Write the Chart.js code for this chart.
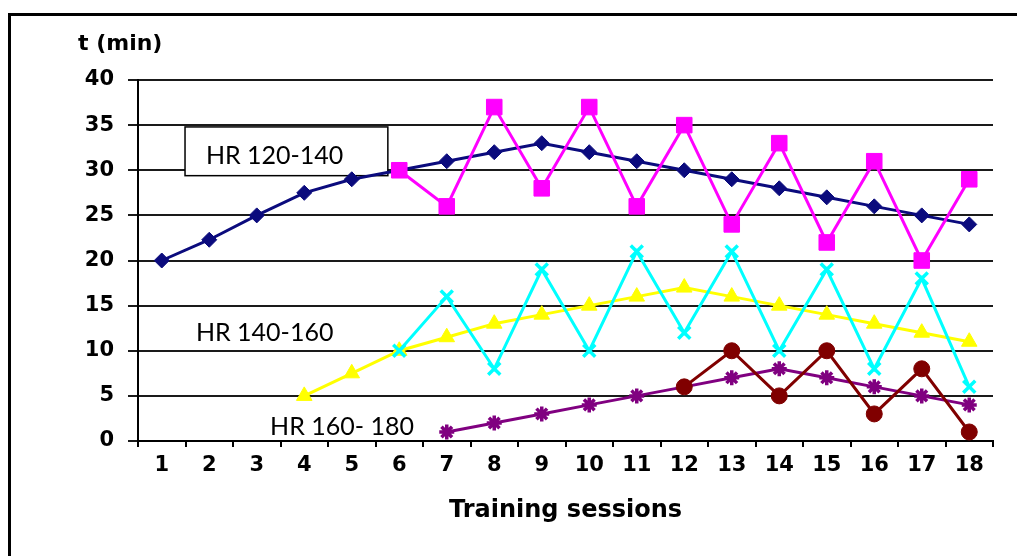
<!DOCTYPE html>
<html>
<head>
<meta charset="UTF-8">
<title>Training sessions</title>
<script src="https://cdn.jsdelivr.net/npm/chart.js"></script>
<style>
  * { margin: 0; padding: 0; box-sizing: border-box; }
  body { width: 1017px; height: 556px; background: #fff; overflow: hidden; position: relative; }
  /* outer frame, only top and left edges are visible */
  .frame {
    position: absolute; left: 8px; top: 13px; width: 1100px; height: 600px;
    border-top: 3px solid #000; border-left: 3px solid #000;
  }
  #chart { position: absolute; left: 0; top: 0; }
</style>
</head>
<body>
<div class="frame"></div>
<canvas id="chart" width="1017" height="556"></canvas>
<script>
// sessions on the x axis
const sessions = ['1','2','3','4','5','6','7','8','9','10','11','12','13','14','15','16','17','18'];
const yTicks = [0, 5, 10, 15, 20, 25, 30, 35, 40];

// HR 120-140 (two series)
const hr120Trend = [20, 22.3, 25, 27.5, 29, 30, 31, 32, 33, 32, 31, 30, 29, 28, 27, 26, 25, 24];
const hr120Real  = [null, null, null, null, null, 30, 26, 37, 28, 37, 26, 35, 24, 33, 22, 31, 20, 29];
// HR 140-160
const hr140Trend = [null, null, null, 5, 7.5, 10, 11.5, 13, 14, 15, 16, 17, 16, 15, 14, 13, 12, 11];
const hr140Real  = [null, null, null, null, null, 10, 16, 8, 19, 10, 21, 12, 21, 10, 19, 8, 18, 6];
// HR 160-180
const hr160Trend = [null, null, null, null, null, null, 1, 2, 3, 4, 5, 6, 7, 8, 7, 6, 5, 4];
const hr160Real  = [null, null, null, null, null, null, null, null, null, null, null, 6, 10, 5, 10, 3, 8, 1];

// zone labels, anchored in data units (x = category index, y = minutes)
const zoneLabels = [
  { text: 'HR 120-140', x: 0.93, y: 31.6, box: [0.49, 34.8, 4.76, 29.4] },
  { text: 'HR 140-160', x: 0.72, y: 12.0 },
  { text: 'HR 160- 180', x: 2.28, y: 1.55 }
];

function series(label, data, color, style, radius, order) {
  return {
    label, data, order,
    borderColor: color, backgroundColor: color,
    pointBackgroundColor: color, pointBorderColor: color,
    borderWidth: 3, pointStyle: style, pointRadius: radius,
    pointBorderWidth: (style === 'crossRot' || style === 'star') ? 3.5 : 1,
    tension: 0, spanGaps: false, fill: false
  };
}

const zonePlugin = {
  id: 'zones',
  beforeDatasetsDraw(chart) {
    const { ctx } = chart;
    const xs = chart.scales.x, ys = chart.scales.y;
    ctx.save();
    zoneLabels.forEach(z => {
      if (z.box) {
        const l = xs.getPixelForValue(z.box[0]), t = ys.getPixelForValue(z.box[1]);
        const r = xs.getPixelForValue(z.box[2]), b = ys.getPixelForValue(z.box[3]);
        ctx.fillStyle = '#fff';
        ctx.fillRect(l, t, r - l, b - t);
        ctx.strokeStyle = '#000';
        ctx.lineWidth = 1.5;
        ctx.strokeRect(l, t, r - l, b - t);
      }
      ctx.fillStyle = '#000';
      ctx.font = '25px Lato';
      ctx.textAlign = 'left';
      ctx.textBaseline = 'middle';
      ctx.fillText(z.text, xs.getPixelForValue(z.x), ys.getPixelForValue(z.y));
    });
    ctx.restore();
  },
  afterDraw(chart) {
    // y axis title above the axis
    const { ctx, chartArea } = chart;
    ctx.save();
    ctx.fillStyle = '#000';
    ctx.font = 'bold 22px "DejaVu Sans"';
    ctx.textAlign = 'left';
    ctx.textBaseline = 'middle';
    ctx.fillText('t (min)', chartArea.left - 60, chartArea.top - 36);
    ctx.restore();
  }
};

new Chart(document.getElementById('chart'), {
  type: 'line',
  data: {
    labels: sessions,
    datasets: [
      series('HR 120-140', hr120Trend, '#0b0b7d', 'rectRot', 7.5, 6),
      series('HR 120-140 ', hr120Real, '#ff00ff', 'rect', 11, 5),
      series('HR 140-160', hr140Trend, '#ffff00', 'triangle', 9, 4),
      series('HR 140-160 ', hr140Real, '#00ffff', 'crossRot', 8.5, 3),
      series('HR 160-180', hr160Trend, '#800080', 'star', 7.5, 2),
      series('HR 160-180 ', hr160Real, '#800000', 'circle', 8, 1)
    ]
  },
  options: {
    responsive: false,
    animation: false,
    devicePixelRatio: 1,
    layout: { padding: { top: 80, right: 24, left: 0, bottom: 0 } },
    plugins: { legend: { display: false }, tooltip: { enabled: false } },
    scales: {
      x: {
        type: 'category',
        offset: true,
        grid: { offset: true, drawOnChartArea: false, drawTicks: true, tickLength: 6, color: '#000', lineWidth: 2 },
        border: { display: true, color: '#000', width: 2 },
        ticks: { color: '#000', font: { family: 'DejaVu Sans', weight: 'bold', size: 21 }, padding: 6, maxRotation: 0, autoSkip: false },
        title: { display: true, text: 'Training sessions', color: '#000',
                 font: { family: 'DejaVu Sans', weight: 'bold', size: 24 }, padding: { top: 0, bottom: 31 } },
        afterFit(scale) { scale.height = 115; }
      },
      y: {
        min: 0, max: 40,
        afterBuildTicks(scale) { scale.ticks = yTicks.map(v => ({ value: v })); },
        grid: { color: '#1a1a1a', lineWidth: 2, tickLength: 10, drawTicks: true },
        border: { display: true, color: '#000', width: 2 },
        ticks: { color: '#000', font: { family: 'DejaVu Sans', weight: 'bold', size: 21 }, padding: 14 },
        afterFit(scale) { scale.width = 138; }
      }
    }
  },
  plugins: [zonePlugin]
});
</script>
</body>
</html>
